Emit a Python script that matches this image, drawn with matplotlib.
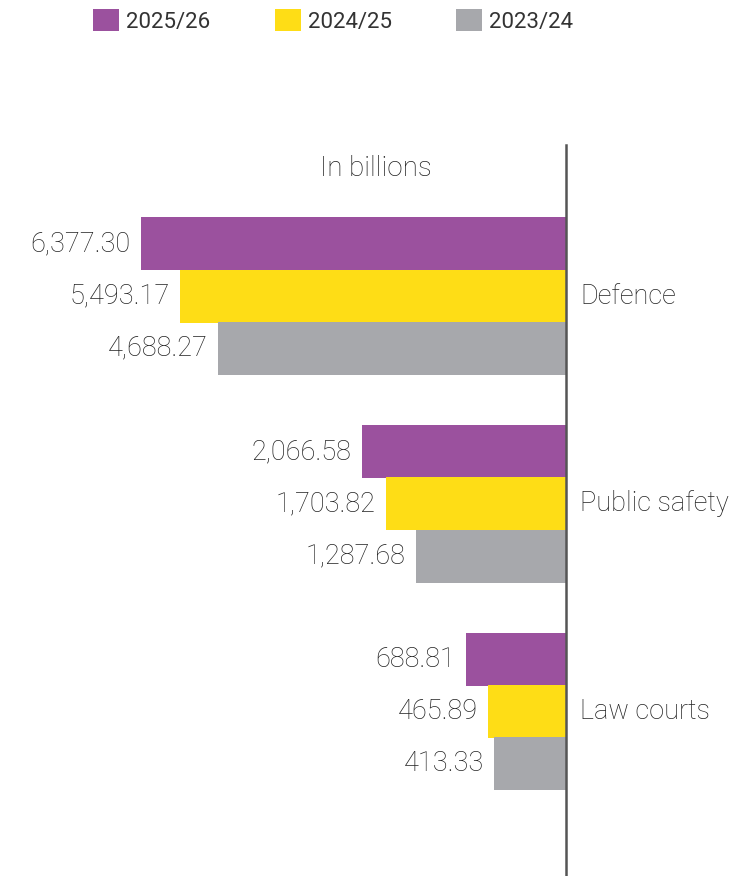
import numpy as np
import matplotlib.pyplot as plt
from matplotlib.scale import FuncScale

categories = ['Defence', 'Public safety', 'Law courts']
years = ['2025/26', '2024/25', '2023/24']
vals_2025 = [6377.30, 2066.58, 688.81]
vals_2024 = [5493.17, 1703.82, 465.89]
vals_2023 = [4688.27, 1287.68, 413.33]
colors = ['#9B519E', '#FEDD16', '#A7A8AC']

plt.rcParams['font.family'] = ['Roboto', 'DejaVu Sans']
txt_color = '#222222'

W, H = 755, 876
fig = plt.figure(figsize=(W / 100, H / 100), dpi=100)
axis_px = 566
ax = fig.add_axes([0, 0, axis_px / W, 1])

# the original bars are not drawn to a linear scale; a power scale fits them best
p = 0.65
ax.set_xscale(FuncScale(ax.xaxis, (lambda v: np.sign(v) * np.abs(v) ** p,
                                    lambda v: np.sign(v) * np.abs(v) ** (1 / p))))
# 6377.30 spans ~425 px of the 566 px wide axes
xmax = (vals_2025[0] ** p * axis_px / 425) ** (1 / p)
ax.set_xlim(xmax, 0)

y = np.arange(len(categories))
step = 0.252
series = [vals_2025, vals_2024, vals_2023]
for k, (vals, col, yr) in enumerate(zip(series, colors, years)):
    pos = y + (k - 1) * step
    ax.barh(pos, vals, height=0.255, color=col, label=yr, linewidth=0)
    for yy, v in zip(pos, vals):
        ax.annotate(f'{v:,.2f}', (v, yy), xytext=(-7.5, 0), textcoords='offset points',
                    ha='right', va='center', fontsize=19.5, color=txt_color, fontweight='light')

ax.set_ylim(2.792, -1.425)
ax.axis('off')

# vertical baseline
ax.plot([0, 0], [(145 - 296) / 207.7, 2.792], color='#555555', lw=1.8, clip_on=False)

for yy, c in zip(y, categories):
    ax.annotate(c, (0, yy), xytext=(10, 0), textcoords='offset points', ha='left',
                va='center', fontsize=19.5, color=txt_color, fontweight='light',
                annotation_clip=False)

fig.text(376 / W, 1 - 169 / H, 'In billions', ha='center', va='center',
         fontsize=20, color=txt_color, fontweight='light')

fig.legend(loc='upper left', bbox_to_anchor=(93 / W, 1 - 9 / H), ncol=3, frameon=False,
           prop={'size': 16}, handlelength=1.17, handleheight=1.17,
           handletextpad=0.32, columnspacing=2.9, borderpad=0, borderaxespad=0,
           labelcolor='#333333')

fig.savefig('out.png', dpi=100)
